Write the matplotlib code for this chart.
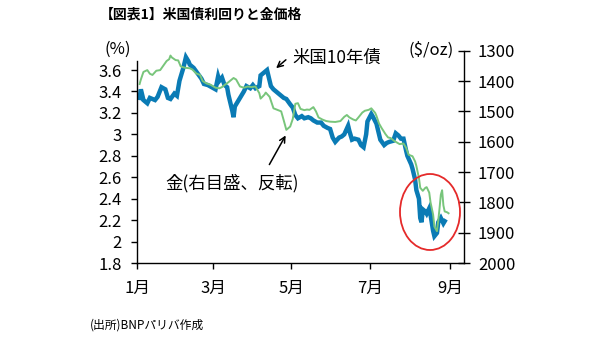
import matplotlib
matplotlib.use("Agg")
import matplotlib.pyplot as plt
from matplotlib.patches import Ellipse, FancyArrowPatch

plt.rcParams['font.family'] = ['Noto Sans CJK JP', 'DejaVu Sans']

# Days since 1 Jan 2011 and values
yield_days = [2, 3, 5, 8, 10, 14, 16, 19, 22, 24, 26, 29, 31, 33, 36, 38, 40, 41, 44, 47,
              50, 52, 55, 58, 61, 63, 64, 66, 68, 70, 71, 74, 75, 76, 78, 81, 83, 85, 88, 90,
              92, 95, 96, 99, 101, 102, 104, 106, 109, 111, 114, 116, 119, 121, 123, 125, 128,
              130, 133, 135, 137, 140, 143, 145, 148, 150, 152, 154, 157, 159, 161, 164, 165,
              167, 169, 172, 174, 176, 178, 179, 182, 183, 186, 187, 189, 192, 194, 196, 199,
              201, 203, 205, 207, 209, 210, 213, 214, 216, 217, 219, 220, 221, 222, 224, 225,
              227, 228, 230, 231, 233, 234, 236, 238, 239]
yield_10y = [3.34, 3.42, 3.32, 3.29, 3.34, 3.32, 3.35, 3.44, 3.42, 3.34, 3.33, 3.38, 3.36,
             3.50, 3.62, 3.72, 3.68, 3.65, 3.62, 3.57, 3.52, 3.47, 3.46, 3.44, 3.42, 3.54,
             3.50, 3.53, 3.46, 3.44, 3.37, 3.22, 3.16, 3.26, 3.30, 3.36, 3.40, 3.45, 3.43,
             3.46, 3.43, 3.45, 3.55, 3.58, 3.60, 3.55, 3.45, 3.42, 3.39, 3.37, 3.34, 3.33,
             3.28, 3.25, 3.18, 3.15, 3.17, 3.15, 3.16, 3.15, 3.13, 3.11, 3.11, 3.08, 3.06,
             3.05, 2.97, 2.93, 2.97, 2.98, 3.00, 3.08, 3.03, 2.95, 2.96, 2.95, 2.90, 2.88,
             3.00, 3.12, 3.19, 3.17, 3.10, 3.05, 2.95, 2.90, 2.92, 2.93, 2.94, 3.01, 2.99,
             2.96, 2.96, 2.85, 2.80, 2.72, 2.68, 2.58, 2.48, 2.40, 2.22, 2.18, 2.30, 2.28,
             2.26, 2.31, 2.25, 2.10, 2.05, 2.08, 2.18, 2.22, 2.17, 2.19]

gold_days = [2, 3, 5, 8, 10, 12, 15, 18, 20, 23, 25, 26, 27, 30, 32, 34, 37, 41, 43, 46,
             49, 51, 54, 57, 61, 64, 66, 68, 71, 75, 77, 80, 83, 86, 89, 92, 95, 96, 99, 100,
             103, 106, 109, 112, 114, 116, 119, 121, 123, 125, 127, 130, 132, 134, 137, 139,
             141, 144, 147, 150, 154, 158, 161, 163, 165, 168, 170, 172, 175, 177, 180, 182,
             185, 186, 188, 190, 193, 195, 197, 200, 202, 204, 207, 209, 211, 214, 216, 217,
             219, 220, 222, 224, 225, 227, 228, 230, 231, 233, 234, 235, 236, 237, 238, 239,
             241, 242]
gold_price = [1410, 1395, 1370, 1364, 1376, 1380, 1366, 1364, 1352, 1334, 1328, 1316, 1322,
              1331, 1332, 1352, 1356, 1358, 1362, 1375, 1380, 1400, 1408, 1412, 1422, 1424,
              1420, 1413, 1404, 1390, 1395, 1418, 1422, 1418, 1420, 1418, 1440, 1458, 1445,
              1438, 1452, 1490, 1495, 1500, 1530, 1561, 1550, 1525, 1475, 1473, 1492, 1496,
              1494, 1495, 1486, 1500, 1520, 1527, 1532, 1534, 1535, 1532, 1518, 1512, 1520,
              1527, 1530, 1520, 1504, 1498, 1495, 1490, 1505, 1515, 1540, 1555, 1575, 1586,
              1588, 1598, 1603, 1608, 1606, 1620, 1643, 1648, 1665, 1680, 1720, 1752, 1762,
              1752, 1750, 1768, 1800, 1840, 1880, 1895, 1860, 1820, 1775, 1760, 1810, 1830,
              1833, 1836]

month_days = [0, 59, 120, 181, 243]
month_labels = ['1月', '3月', '5月', '7月', '9月']
left_ticks = [1.8, 2.0, 2.2, 2.4, 2.6, 2.8, 3.0, 3.2, 3.4, 3.6]
left_labels = ['1.8', '2', '2.2', '2.4', '2.6', '2.8', '3', '3.2', '3.4', '3.6']
right_ticks = [1300, 1400, 1500, 1600, 1700, 1800, 1900, 2000]

BLUE = '#0A7BB5'
GREEN = '#78C57B'

fig = plt.figure(figsize=(6.0, 3.38), dpi=100)
ax = fig.add_axes([137/600, 1-263/338, (464-137)/600, (263-50.7)/338])
ax2 = ax.twinx()

ax.plot(yield_days, yield_10y, color=BLUE, lw=3.2, solid_joinstyle='miter', zorder=2)
ax2.plot(gold_days, gold_price, color=GREEN, lw=1.4, zorder=3)

ax.set_xlim(0, 254)
ax.set_ylim(1.8, 1.8 + (263-50.7)/107.2)
ax2.set_ylim(2000, 1300)

ax.set_xticks(month_days)
ax.set_xticklabels(month_labels)
ax.set_yticks(left_ticks)
ax.set_yticklabels(left_labels)
ax2.set_yticks(right_ticks)
ax2.set_yticklabels([str(v) for v in right_ticks])

for a in (ax, ax2):
    a.spines['top'].set_visible(False)
ax.spines['right'].set_visible(False)
ax2.spines['left'].set_visible(False)
ax2.spines['bottom'].set_visible(False)
ax.spines['left'].set_bounds(1.8, 3.68)
for s in ('left', 'bottom'):
    ax.spines[s].set_linewidth(1.0)
ax2.spines['right'].set_linewidth(1.0)

ax.tick_params(axis='y', direction='out', length=4, width=1, labelsize=12, pad=7)
ax.tick_params(axis='x', direction='out', length=4, width=1, labelsize=12, pad=8)
ax2.tick_params(axis='y', direction='inout', length=8, width=1, labelsize=12, pad=6)

fig.text(100/600, 1-15/338, '【図表1】米国債利回りと金価格', fontsize=10, fontweight='bold',
         ha='left', va='center')
fig.text(118/600, 1-49/338, '(%)', fontsize=12, ha='center', va='center')
fig.text(431/600, 1-50/338, '($/oz)', fontsize=12, ha='center', va='center')
fig.text(90/600, 1-325/338, '(出所)BNPパリバ作成', fontsize=8.5, ha='left', va='center')

fig.text(292/600, 1-58/338, '米国10年債', fontsize=12.5, ha='left', va='center')
fig.text(165/600, 1-183/338, '金(右目盛、反転)', fontsize=12.5, ha='left', va='center')

fig.add_artist(FancyArrowPatch((288/600, 1-58/338), (274/600, 1-70/338),
               transform=fig.transFigure, arrowstyle='->', mutation_scale=10,
               color='black', lw=1.1))
fig.add_artist(FancyArrowPatch((268/600, 1-167/338), (287/600, 1-133/338),
               transform=fig.transFigure, arrowstyle='->', mutation_scale=10,
               color='black', lw=1.1))

fig.add_artist(Ellipse((430/600, 1-212/338), 60/600, 76/338, transform=fig.transFigure,
                       fill=False, edgecolor='#E52A2A', lw=1.3))

fig.savefig('out.png', dpi=100)
